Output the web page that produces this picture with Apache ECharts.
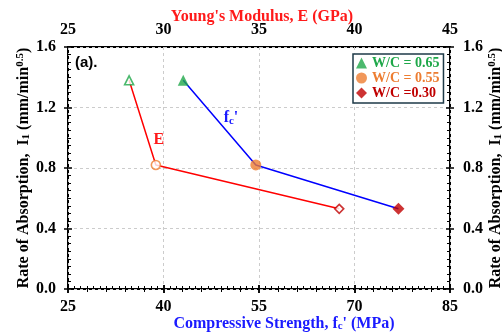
<!DOCTYPE html>
<html>
<head>
<meta charset="utf-8">
<script src="https://cdn.jsdelivr.net/npm/echarts@6/dist/echarts.min.js"></script>
<style>
  html, body { margin: 0; padding: 0; background: #fff; }
  #chart { width: 502px; height: 332px; }
</style>
</head>
<body>
<div id="chart"></div>
<script>
// W/C groups, one point each on both x axes
const wcRatios = ['W/C = 0.65', 'W/C = 0.55', 'W/C =0.30'];
const strength = [43.1, 54.5, 76.9];   // f_c' (MPa), bottom axis
const modulus = [28.2, 29.6, 39.2];    // E (GPa), top axis
const absorption = [1.38, 0.82, 0.53]; // I1 (mm/min^0.5)
const wcColors = ['#1fa84a', '#ed7d31', '#c00000'];
const wcSymbols = ['triangle', 'circle', 'diamond'];

const serif = 'Liberation Serif';
const chart = echarts.init(document.getElementById('chart'), null, { renderer: 'canvas' });

const tickLabel = { color: '#000', fontFamily: serif, fontWeight: 'bold', fontSize: 16 };

function mainX(pos, min, max, interval, minorSplit, extra) {
    return Object.assign({
        type: 'value', position: pos, min: min, max: max, interval: interval,
        nameMoveOverlap: false,
        axisLine: { show: false },
        axisTick: { show: true, inside: true, length: 4, lineStyle: { color: '#000', width: 1.5 } },
        minorTick: { show: true, splitNumber: minorSplit, length: 3, lineStyle: { color: '#000', width: 1 } },
        axisLabel: Object.assign({ margin: 10 }, tickLabel),
        splitLine: { show: false }
    }, extra || {});
}
function outerTicks(pos, min, max, interval) {
    return {
        type: 'value', position: pos, min: min, max: max, interval: interval,
        axisLine: { show: false },
        axisTick: { show: true, inside: false, length: 4, lineStyle: { color: '#000', width: 1.5 } },
        axisLabel: { show: false },
        splitLine: { show: false }
    };
}

const yName = '{n|Rate of Absorption,  I}{sub|1}{n| (mm/min}{sup|0.5}{n|)}';
const yNameStyle = {
    color: '#000', fontFamily: serif, fontWeight: 'bold', fontSize: 16,
    rich: {
        n: { fontFamily: serif, fontWeight: 'bold', fontSize: 16, color: '#000' },
        sub: { fontFamily: serif, fontWeight: 'bold', fontSize: 11, color: '#000', verticalAlign: 'bottom', padding: [6, 0, 0, 0] },
        sup: { fontFamily: serif, fontWeight: 'bold', fontSize: 11, color: '#000', verticalAlign: 'top', padding: [0, 0, 6, 0] }
    }
};

const option = {
    backgroundColor: '#fff',
    animation: false,
    grid: {
        left: 68, right: 52, top: 47, bottom: 43, containLabel: false,
        outerBoundsMode: 'none',
        show: true, borderColor: '#000', borderWidth: 2, backgroundColor: 'transparent'
    },
    xAxis: [
        mainX('bottom', 25, 85, 15, 15, {
            name: "{n|Compressive Strength, f}{sub|c}{n|' (MPa)}",
            nameLocation: 'middle', nameGap: 26,
            nameTextStyle: {
                color: '#1a1aff', fontFamily: serif, fontWeight: 'bold', fontSize: 16,
                padding: [0, 0, 0, 50],
                rich: {
                    n: { fontFamily: serif, fontWeight: 'bold', fontSize: 16, color: '#1a1aff' },
                    sub: { fontFamily: serif, fontWeight: 'bold', fontSize: 11, color: '#1a1aff', verticalAlign: 'bottom', padding: [6, 0, 0, 0] }
                }
            },
            splitLine: { show: true, lineStyle: { color: '#cccccc', type: [3, 3], width: 1 } }
        }),
        mainX('top', 25, 45, 5, 5, {
            name: "Young's Modulus, E (GPa)",
            nameLocation: 'middle', nameGap: 22,
            nameTextStyle: { color: '#ff1a1a', fontFamily: serif, fontWeight: 'bold', fontSize: 16, padding: [0, 0, 0, 6] },
            axisLabel: Object.assign({ margin: 9 }, tickLabel)
        }),
        outerTicks('bottom', 25, 85, 15),
        outerTicks('top', 25, 45, 5)
    ],
    yAxis: [
        mainX('left', 0, 1.6, 0.4, 8, {
            name: yName, nameLocation: 'middle', nameGap: 36, nameRotate: 90,
            nameTextStyle: yNameStyle,
            axisLabel: Object.assign({ margin: 12, formatter: v => v.toFixed(1) }, tickLabel),
            splitLine: { show: true, lineStyle: { color: '#cccccc', type: [3, 3], width: 1 } }
        }),
        mainX('right', 0, 1.6, 0.4, 8, {
            name: yName, nameLocation: 'middle', nameGap: 37, nameRotate: 90,
            nameTextStyle: yNameStyle,
            axisLabel: Object.assign({ margin: 13, formatter: v => v.toFixed(1) }, tickLabel)
        }),
        outerTicks('left', 0, 1.6, 0.4),
        outerTicks('right', 0, 1.6, 0.4)
    ],
    legend: {
        orient: 'vertical', left: 353, top: 54,
        borderColor: '#1e3a48', borderWidth: 1.5, borderRadius: 0,
        padding: [2, 4, 3, 3], itemGap: 1, itemWidth: 11, itemHeight: 11,
        backgroundColor: '#fff',
        textStyle: { fontFamily: serif, fontWeight: 'bold', fontSize: 14 },
        data: wcRatios.map((n, i) => ({ name: n, icon: wcSymbols[i], textStyle: { color: wcColors[i] } }))
    },
    graphic: [{
        type: 'text', left: 75, top: 55,
        style: { text: '(a).', fill: '#000', font: 'bold 15px "Liberation Sans"' }
    }],
    series: [
        {
            name: 'fc', type: 'line', xAxisIndex: 0, yAxisIndex: 0,
            data: strength.map((v, i) => [v, absorption[i]]),
            symbol: 'none', lineStyle: { color: '#0000ff', width: 1.5 }, z: 2,
            markPoint: {
                symbol: 'circle', symbolSize: 0,
                label: {
                    show: true, position: 'inside',
                    formatter: "{n|f}{sub|c}{n|'}",
                    rich: {
                        n: { fontFamily: serif, fontWeight: 'bold', fontSize: 16, color: '#1a1aff' },
                        sub: { fontFamily: serif, fontWeight: 'bold', fontSize: 11, color: '#1a1aff', verticalAlign: 'bottom', padding: [6, 0, 0, 0] }
                    }
                },
                data: [{ coord: [50.6, 1.13] }]
            }
        },
        {
            name: 'E', type: 'line', xAxisIndex: 1, yAxisIndex: 0,
            data: modulus.map((v, i) => [v, absorption[i]]),
            symbol: 'none', lineStyle: { color: '#ff0000', width: 1.5 }, z: 2,
            markPoint: {
                symbol: 'circle', symbolSize: 0,
                label: {
                    show: true, position: 'inside', formatter: 'E',
                    fontFamily: serif, fontWeight: 'bold', fontSize: 16, color: '#ff1a1a'
                },
                data: [{ coord: [29.75, 0.985] }]
            }
        }
    ]
};

// filled markers on the strength axis, open markers on the modulus axis
wcRatios.forEach((n, i) => {
    option.series.push({
        name: n, type: 'scatter', xAxisIndex: 0, yAxisIndex: 0,
        data: [[strength[i], absorption[i]]],
        symbol: wcSymbols[i], symbolSize: wcSymbols[i] === 'diamond' ? 12 : 11,
        itemStyle: { color: wcColors[i] }, z: 3
    });
    option.series.push({
        name: n, type: 'scatter', xAxisIndex: 1, yAxisIndex: 0,
        data: [[modulus[i], absorption[i]]],
        symbol: wcSymbols[i], symbolSize: 9,
        itemStyle: { color: '#fff', borderColor: wcColors[i], borderWidth: 1.6 }, z: 3
    });
});

chart.setOption(option);
</script>
</body>
</html>
